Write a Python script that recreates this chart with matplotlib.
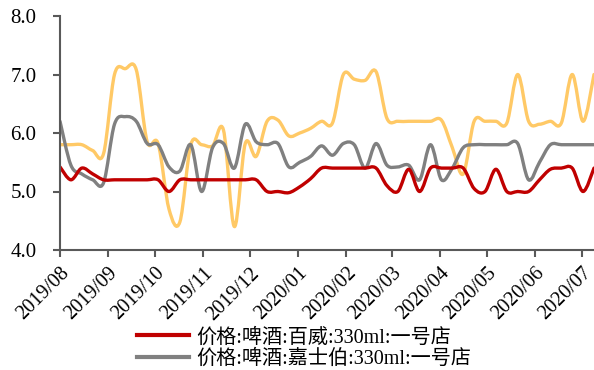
import matplotlib
matplotlib.use("Agg")
import matplotlib.pyplot as plt
import matplotlib.dates as mdates
from matplotlib.path import Path
from matplotlib.patches import PathPatch
from matplotlib.lines import Line2D
import numpy as np
import pandas as pd

dates = pd.date_range("2019-08-01", periods=50, freq="7D")

budweiser = [5.42, 5.2, 5.4, 5.3, 5.2, 5.2, 5.2, 5.2, 5.2, 5.2,
             5.0, 5.2, 5.2, 5.2, 5.2, 5.2, 5.2, 5.2, 5.2, 5.0,
             5.0, 4.98, 5.08, 5.22, 5.4, 5.4, 5.4, 5.4, 5.4, 5.4,
             5.1, 5.0, 5.38, 5.0, 5.4, 5.4, 5.4, 5.4, 5.05, 5.0,
             5.38, 5.0, 5.0, 5.0, 5.2, 5.38, 5.4, 5.4, 5.0, 5.4]

carlsberg = [6.2, 5.45, 5.3, 5.2, 5.15, 6.15, 6.28, 6.2, 5.82, 5.8,
             5.42, 5.35, 5.8, 5.0, 5.75, 5.82, 5.4, 6.15, 5.85, 5.8,
             5.82, 5.42, 5.5, 5.6, 5.78, 5.62, 5.82, 5.8, 5.4, 5.82,
             5.45, 5.42, 5.45, 5.2, 5.8, 5.2, 5.4, 5.75, 5.8, 5.8,
             5.8, 5.8, 5.82, 5.2, 5.5, 5.8, 5.8, 5.8, 5.8, 5.8]

third = [5.8, 5.8, 5.8, 5.7, 5.65, 7.0, 7.1, 7.08, 5.85, 5.82,
         4.7, 4.48, 5.8, 5.8, 5.78, 6.05, 4.4, 5.82, 5.6, 6.2,
         6.22, 5.95, 6.0, 6.08, 6.2, 6.17, 7.0, 6.92, 6.9, 7.05,
         6.25, 6.2, 6.2, 6.2, 6.2, 6.22, 5.75, 5.3, 6.2, 6.2,
         6.2, 6.17, 7.0, 6.2, 6.15, 6.2, 6.17, 7.0, 6.2, 7.0]

labels = ["价格:啤酒:百威:330ml:一号店", "价格:啤酒:嘉士伯:330ml:一号店"]
yticks = [4.0, 5.0, 6.0, 7.0, 8.0]

plt.rcParams['font.family'] = ['Liberation Serif', 'Noto Sans CJK SC']

fig = plt.figure(figsize=(5.94, 3.70), dpi=100)
ax = fig.add_axes([60/594, 1-250/370, (594-60)/594, (250-16)/370])


def smooth_series(ax, xs, ys, color, lw):
    """Excel-style smoothed line drawn as a cubic Bezier path in data space."""
    x = mdates.date2num(xs)
    y = np.asarray(ys, dtype=float)
    n = len(x)
    verts = [(x[0], y[0])]
    codes = [Path.MOVETO]
    for i in range(n - 1):
        i0 = max(i - 1, 0)
        i3 = min(i + 2, n - 1)
        c1 = (x[i] + (x[i + 1] - x[i0]) / 6.0, y[i] + (y[i + 1] - y[i0]) / 6.0)
        c2 = (x[i + 1] - (x[i3] - x[i]) / 6.0, y[i + 1] - (y[i3] - y[i]) / 6.0)
        verts += [c1, c2, (x[i + 1], y[i + 1])]
        codes += [Path.CURVE4] * 3
    patch = PathPatch(Path(verts, codes), facecolor='none', edgecolor=color,
                      lw=lw, capstyle='round', joinstyle='round',
                      transform=ax.transData)
    ax.add_patch(patch)
    return patch


smooth_series(ax, dates, third, '#FFC966', 2.4)
smooth_series(ax, dates, carlsberg, '#808080', 2.4)
smooth_series(ax, dates, budweiser, '#C00000', 2.4)

ax.set_xlim(dates[0], dates[-1])
ax.set_ylim(4.0, 8.0)
ax.set_yticks(yticks)
ax.set_yticklabels([f"{v:.1f}" for v in yticks], fontsize=15)

ax.xaxis.set_major_locator(mdates.MonthLocator())
ax.xaxis.set_major_formatter(mdates.DateFormatter("%Y/%m"))
for lab in ax.get_xticklabels():
    lab.set_rotation(45)
    lab.set_ha('right')
    lab.set_rotation_mode('anchor')
    lab.set_fontsize(14.5)

for s in ['top', 'right']:
    ax.spines[s].set_visible(False)
for s in ['left', 'bottom']:
    ax.spines[s].set_color('#595959')
    ax.spines[s].set_linewidth(1.5)
ax.tick_params(axis='both', colors='#595959', length=5, width=1.5, labelcolor='black')
ax.tick_params(axis='y', pad=12)
ax.tick_params(axis='x', pad=5)

handles = [Line2D([], [], color='#C00000', lw=3),
           Line2D([], [], color='#808080', lw=3)]
leg = fig.legend(handles, labels,
                 loc='upper left', bbox_to_anchor=(129/594, 1-320/370),
                 frameon=False, fontsize=14.5, handlelength=2.6,
                 handletextpad=0.35, labelspacing=0.12, borderaxespad=0)

fig.savefig("out.png", dpi=100)
